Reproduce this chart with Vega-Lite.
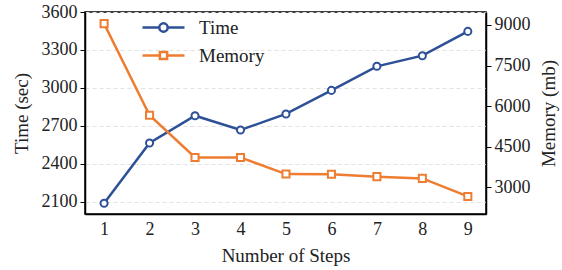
{
  "$schema": "https://vega.github.io/schema/vega-lite/v6.json",
  "width": 401,
  "height": 202,
  "autosize": "none",
  "padding": {"left": 85, "top": 12, "right": 76, "bottom": 56},
  "background": "white",
  "config": {
    "font": "Liberation Serif",
    "view": {"stroke": "black", "strokeWidth": 1.5},
    "axis": {
      "domainColor": "black",
      "domainWidth": 1.5,
      "tickColor": "black",
      "tickWidth": 1,
      "tickSize": 5,
      "labelFont": "Liberation Serif",
      "labelFontSize": 18,
      "labelColor": "#222",
      "titleFont": "Liberation Serif",
      "titleFontSize": 19,
      "titleFontWeight": "normal",
      "titleColor": "#222",
      "labelPadding": 3,
      "format": "d"
    }
  },
  "data": {
    "values": [
      {"step": 1, "time": 2090, "memory": 9050},
      {"step": 2, "time": 2566, "memory": 5668},
      {"step": 3, "time": 2781, "memory": 4109},
      {"step": 4, "time": 2668, "memory": 4109},
      {"step": 5, "time": 2795, "memory": 3494},
      {"step": 6, "time": 2981, "memory": 3490},
      {"step": 7, "time": 3171, "memory": 3400},
      {"step": 8, "time": 3255, "memory": 3335},
      {"step": 9, "time": 3447, "memory": 2668}
    ]
  },
  "encoding": {
    "x": {
      "field": "step",
      "type": "quantitative",
      "scale": {"domain": [0.58, 9.4], "nice": false, "zero": false},
      "axis": {
        "title": "Number of Steps",
        "values": [1, 2, 3, 4, 5, 6, 7, 8, 9],
        "grid": false,
        "ticks": false,
        "labelPadding": 6,
        "titlePadding": 8
      }
    }
  },
  "layer": [
    {
      "mark": {
        "type": "line",
        "strokeWidth": 2.5,
        "point": {"shape": "circle", "filled": false, "fill": "white", "size": 50, "strokeWidth": 2}
      },
      "encoding": {
        "y": {
          "field": "time",
          "type": "quantitative",
          "scale": {"domain": [2005, 3600], "nice": false, "zero": false},
          "axis": {
            "title": "Time (sec)",
            "orient": "left",
            "values": [2100, 2400, 2700, 3000, 3300, 3600],
            "grid": true,
            "gridDash": [4, 3],
            "gridColor": "#e3e3e3",
            "gridWidth": 1,
            "titlePadding": 10
          }
        },
        "color": {
          "datum": "Time",
          "scale": {"domain": ["Time", "Memory"], "range": ["#2d5096", "#ee7d31"]},
          "legend": {
            "title": null,
            "orient": "none",
            "legendX": 67,
            "legendY": 4,
            "labelFontSize": 19,
            "labelFont": "Liberation Serif",
            "labelColor": "#222",
            "symbolSize": 400,
            "symbolStrokeWidth": 2.5,
            "labelOffset": 24,
            "rowPadding": 6,
            "encode": {
              "symbols": {
                "update": {
                  "shape": {"signal": "datum.value == 'Time' ? 'M-2.1,0L-0.42,0M0.42,0L2.1,0M0.42,0A0.42,0.42 0 1,1 -0.42,0A0.42,0.42 0 1,1 0.42,0' : 'M-2.1,0L-0.36,0M0.36,0L2.1,0M-0.36,-0.36L0.36,-0.36L0.36,0.36L-0.36,0.36Z'"},
                  "fill": {"value": "white"},
                  "strokeWidth": {"value": 2.5},
                  "opacity": {"value": 1}
                }
              }
            }
          }
        }
      }
    },
    {
      "mark": {
        "type": "line",
        "strokeWidth": 2.5,
        "point": {"shape": "square", "filled": false, "fill": "white", "size": 50, "strokeWidth": 2}
      },
      "encoding": {
        "y": {
          "field": "memory",
          "type": "quantitative",
          "scale": {"domain": [2020, 9480], "nice": false, "zero": false},
          "axis": {
            "title": "Memory (mb)",
            "orient": "right",
            "values": [3000, 4500, 6000, 7500, 9000],
            "grid": false,
            "titleAngle": 270,
            "titleBaseline": "bottom",
            "titlePadding": 28
          }
        },
        "color": {"datum": "Memory"}
      }
    }
  ],
  "resolve": {"scale": {"y": "independent"}}
}
